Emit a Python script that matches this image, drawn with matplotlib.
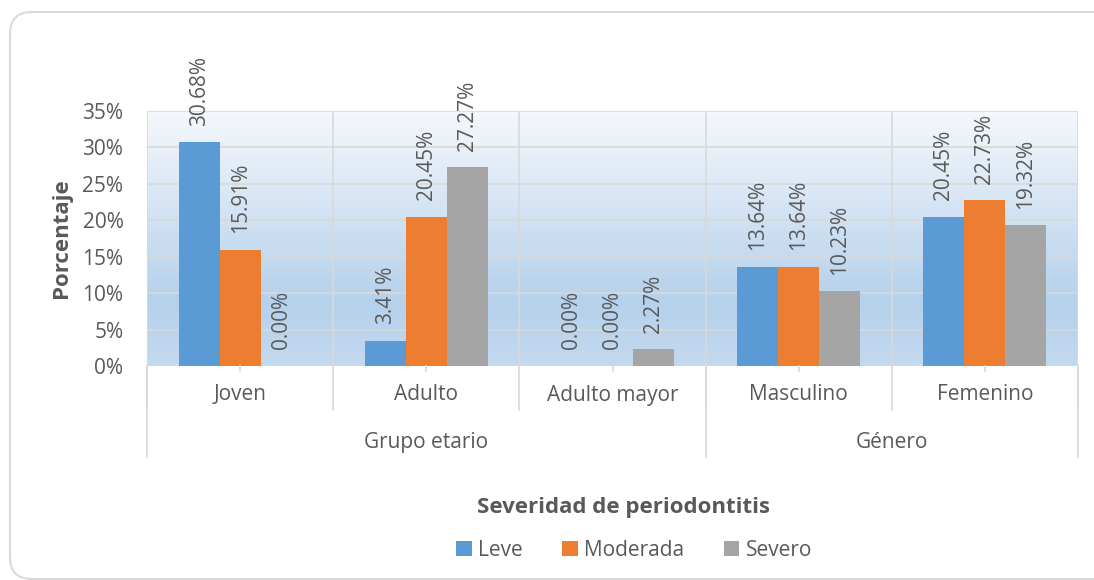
import numpy as np
import matplotlib
matplotlib.use("Agg")
import matplotlib.pyplot as plt
from matplotlib.colors import LinearSegmentedColormap
from matplotlib.patches import FancyBboxPatch, Patch
import matplotlib.transforms as mtransforms

categories = ["Joven", "Adulto", "Adulto mayor", "Masculino", "Femenino"]
groups = ["Grupo etario", "Género"]
group_sizes = [3, 2]
series = ["Leve", "Moderada", "Severo"]
leve = [30.68, 3.41, 0.00, 13.64, 20.45]
moderada = [15.91, 20.45, 0.00, 13.64, 22.73]
severo = [0.00, 27.27, 2.27, 10.23, 19.32]
yticks = [0, 5, 10, 15, 20, 25, 30, 35]

colors = ["#5b9bd5", "#ed7d31", "#a5a5a5"]
text_col = "#595959"
grid_col = "#d9d9d9"

plt.rcParams['font.family'] = ['Open Sans', 'DejaVu Sans']

W, H = 1094, 580
fig = plt.figure(figsize=(W / 100, H / 100), dpi=100)

# outer rounded border (right and bottom edges run off the picture)
border = FancyBboxPatch((10 / W, 1 / H), 1150 / W, 567 / H,
                        boxstyle="round,pad=0,rounding_size=0.02",
                        transform=fig.transFigure, fill=False,
                        edgecolor="#d9d9d9", linewidth=1.5,
                        mutation_aspect=W / H)
fig.patches.append(border)

left, right, top, bottom = 147, 1078, 111, 366
ax = fig.add_axes([left / W, 1 - bottom / H, (right - left) / W, (bottom - top) / H])

n = len(categories)
x = np.arange(n)
ax.set_xlim(-0.5, n - 0.5)
ax.set_ylim(0, 35)

# gradient background
grad = LinearSegmentedColormap.from_list(
    "bg", [(0.0, "#c3d9ef"), (0.25, "#b5d1ec"), (0.6, "#d3e3f3"), (1.0, "#f5f8fc")])
ax.imshow(np.linspace(0, 1, 256).reshape(-1, 1), cmap=grad, aspect="auto",
          extent=(-0.5, n - 0.5, 0, 35), origin="lower", zorder=0)

for yv in yticks:
    ax.axhline(yv, color=grid_col, lw=1.2, zorder=1)
for b in np.arange(-0.5, n, 1.0):
    ax.axvline(b, color=grid_col, lw=1.2, zorder=1)

bw = 0.22
data = [leve, moderada, severo]
for i, (vals, c, name) in enumerate(zip(data, colors, series)):
    pos = x + (i - 1) * bw
    ax.bar(pos, vals, width=bw, color=c, label=name, zorder=2)
    for px, v in zip(pos, vals):
        ax.annotate(f"{v:.2f}%", (px, v), xytext=(0, 12), textcoords="offset points",
                    rotation=90, ha="center", va="bottom", fontsize=15,
                    color=text_col, annotation_clip=False)

for s in ax.spines.values():
    s.set_visible(False)

ax.set_yticks(yticks)
ax.set_yticklabels([f"{v}%" for v in yticks])
ax.tick_params(axis="y", length=0, pad=17, labelsize=15, labelcolor=text_col)
ax.set_xticks([])

# multi-level category axis
trans = mtransforms.blended_transform_factory(ax.transData, ax.transAxes)
ph = bottom - top
lvl1 = -(410 - bottom) / ph
lvl2 = -(457 - bottom) / ph
tick = -(371 - bottom) / ph
for xi in x:
    ax.plot([xi, xi], [0, tick], color=grid_col, lw=1.2, transform=trans, clip_on=False)
    ax.text(xi, -(395 - bottom) / ph, categories[xi], transform=trans, ha="center",
            va="center", fontsize=15, color=text_col)
for b in np.arange(-0.5, n, 1.0):
    ax.plot([b, b], [0, lvl1], color=grid_col, lw=1.2, transform=trans, clip_on=False)
start = -0.5
ax.plot([start, start], [0, lvl2], color=grid_col, lw=1.2, transform=trans, clip_on=False)
for g, sz in zip(groups, group_sizes):
    end = start + sz
    ax.plot([end, end], [0, lvl2], color=grid_col, lw=1.2, transform=trans, clip_on=False)
    ax.text((start + end) / 2, -(442 - bottom) / ph, g, transform=trans, ha="center",
            va="center", fontsize=15, color=text_col)
    start = end

fig.text(62 / W, 1 - 238 / H, "Porcentaje", rotation=90, ha="center", va="center",
         fontsize=16, fontweight="bold", color=text_col)
fig.text(624 / W, 1 - 508 / H, "Severidad de periodontitis", ha="center", va="center",
         fontsize=16, fontweight="bold", color=text_col)

handles = [Patch(facecolor=c, edgecolor="none") for c in colors]
leg = fig.legend(handles, series, loc="center", bbox_to_anchor=(634 / W, 1 - 550 / H),
                 ncol=3, frameon=False, fontsize=15, handlelength=0.75, handleheight=0.75,
                 handletextpad=0.3, columnspacing=1.9, borderpad=0)
for t in leg.get_texts():
    t.set_color(text_col)

fig.savefig("out.png", dpi=100)
